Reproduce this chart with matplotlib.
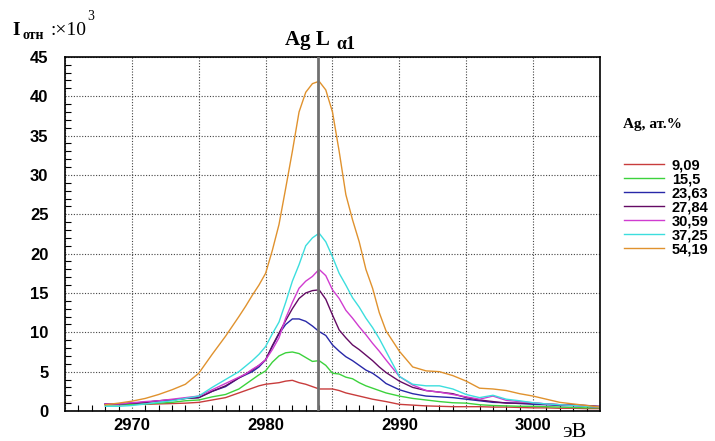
import matplotlib
matplotlib.use("Agg")
import matplotlib.pyplot as plt
from matplotlib.ticker import MultipleLocator

# energy, eV
energy = [2968, 2969, 2970, 2971, 2972, 2973, 2974, 2975, 2976, 2977, 2978,
          2978.5, 2979, 2979.5, 2980, 2980.5, 2981, 2981.5, 2982, 2982.5, 2983,
          2983.5, 2984, 2984.5, 2985, 2985.5, 2986, 2986.5, 2987, 2987.5, 2988,
          2988.5, 2989, 2990, 2991, 2992, 2993, 2994, 2995, 2996, 2997, 2998,
          2999, 3000, 3001, 3002, 3003, 3004, 3005]

ag_09 = [0.8, 0.8, 0.85, 0.85, 0.9, 0.95, 1.0, 1.1, 1.4, 1.7, 2.3,
         2.6, 2.9, 3.2, 3.4, 3.5, 3.6, 3.8, 3.9, 3.6, 3.4,
         3.1, 2.8, 2.8, 2.8, 2.6, 2.3, 2.1, 1.9, 1.7, 1.5,
         1.35, 1.2, 0.85, 0.75, 0.65, 0.6, 0.55, 0.55, 0.55, 0.5, 0.5,
         0.45, 0.4, 0.4, 0.35, 0.35, 0.3, 0.3]
ag_15 = [0.8, 0.8, 0.85, 0.9, 1.0, 1.1, 1.3, 1.4, 1.8, 2.1, 2.8,
         3.4, 4.0, 4.6, 5.1, 6.2, 7.0, 7.4, 7.5, 7.3, 6.8,
         6.3, 6.4, 5.8, 4.8, 4.7, 4.3, 4.1, 3.6, 3.2, 2.9,
         2.6, 2.3, 1.9, 1.6, 1.4, 1.2, 1.05, 1.0, 0.8, 0.7, 0.65,
         0.6, 0.6, 0.55, 0.5, 0.45, 0.4, 0.4]
ag_23 = [0.9, 0.9, 1.0, 1.1, 1.3, 1.4, 1.6, 1.7, 2.5, 3.1, 4.2,
         4.6, 5.0, 5.6, 6.5, 8.2, 9.8, 11.0, 11.7, 11.7, 11.4,
         10.8, 10.1, 9.6, 8.4, 7.6, 6.9, 6.4, 5.8, 5.2, 4.8,
         4.2, 3.5, 2.7, 2.2, 1.9, 1.8, 1.7, 1.5, 1.3, 1.1, 1.05,
         0.95, 0.85, 0.8, 0.7, 0.7, 0.6, 0.5]
ag_27 = [0.9, 0.9, 1.0, 1.1, 1.3, 1.4, 1.6, 1.7, 2.5, 3.2, 4.2,
         4.7, 5.2, 5.8, 6.5, 8.3, 9.9, 11.5, 13.0, 14.3, 15.0,
         15.3, 15.4, 14.2, 12.2, 10.3, 9.3, 8.4, 7.8, 7.1, 6.4,
         5.6, 4.9, 3.8, 3.0, 2.6, 2.4, 2.2, 1.7, 1.4, 1.2, 1.0,
         1.0, 1.0, 0.9, 0.8, 0.8, 0.7, 0.6]
ag_30 = [0.9, 0.9, 1.05, 1.2, 1.3, 1.5, 1.7, 1.9, 2.7, 3.5, 4.3,
         4.7, 5.3, 5.8, 6.5, 7.8, 9.3, 11.8, 13.8, 15.6, 16.5,
         17.1, 18.0, 17.2, 15.4, 14.3, 12.8, 11.8, 10.7, 9.7, 8.6,
         7.6, 6.5, 4.4, 3.3, 2.6, 2.4, 2.1, 1.8, 1.5, 1.9, 1.35,
         1.2, 1.05, 0.9, 0.8, 0.7, 0.6, 0.5]
ag_37 = [0.6, 0.6, 0.7, 0.9, 1.1, 1.3, 1.6, 1.9, 3.0, 4.0, 5.0,
         5.7, 6.4, 7.2, 8.2, 9.8, 11.3, 13.8, 16.5, 18.6, 21.0,
         22.0, 22.6, 21.5, 19.6, 17.5, 16.0, 14.4, 13.2, 11.8, 10.6,
         9.2, 7.6, 4.4, 3.4, 3.2, 3.2, 2.8, 2.1, 1.7, 2.0, 1.5,
         1.3, 1.05, 0.9, 0.8, 0.7, 0.6, 0.5]
ag_54 = [0.8, 1.0, 1.25, 1.6, 2.1, 2.7, 3.4, 4.8, 7.2, 9.5, 12.0,
         13.3, 14.7, 16.0, 17.5, 20.4, 23.7, 28.3, 33.0, 38.0, 40.5,
         41.6, 41.9, 40.8, 38.0, 33.0, 27.5, 24.3, 21.5, 18.0, 15.6,
         12.5, 10.2, 7.6, 5.6, 5.1, 5.0, 4.5, 3.8, 2.9, 2.8, 2.6,
         2.2, 1.9, 1.5, 1.1, 0.9, 0.7, 0.5]

series = [ag_09, ag_15, ag_23, ag_27, ag_30, ag_37, ag_54]
labels = ["9,09", "15,5", "23,63", "27,84", "30,59", "37,25", "54,19"]
colors = ["#c83c3c", "#3cd23c", "#2828a8", "#640a64", "#d03cd0", "#3cdede", "#e0922e"]

line_pos = 2983.9

fig = plt.figure(figsize=(7.15, 4.41), dpi=100)
ax = fig.add_axes([0.091, 0.068, 0.748, 0.803])

for y, lab, c in zip(series, labels, colors):
    ax.plot(energy, y, color=c, lw=1.0, label=lab)

ax.axvline(line_pos, color="#707070", lw=2, zorder=5)

ax.set_xlim(2965, 3005)
ax.set_ylim(0, 45)

ax.set_xticks([2965, 2970, 2975, 2980, 2985, 2990, 2995, 3000, 3005])
ax.set_xticklabels(["", "2970", "", "2980", "", "2990", "", "3000", ""])
ax.xaxis.set_minor_locator(MultipleLocator(1))
ax.yaxis.set_major_locator(MultipleLocator(5))
ax.yaxis.set_minor_locator(MultipleLocator(1))
ax.tick_params(which="both", direction="in", length=4, width=0.8)
ax.tick_params(axis="x", which="major", length=0, pad=5)
ax.tick_params(axis="y", which="major", length=0, pad=12)

for t in ax.get_xticklabels() + ax.get_yticklabels():
    t.set_fontfamily("Liberation Sans")
    t.set_fontweight("bold")
    t.set_fontsize(12)

ax.grid(True, which="major", ls=(0, (1, 1.5)), color="#444444", lw=0.8)
for s in ax.spines.values():
    s.set_linewidth(1.2)

# title and axis labels
fig.text(0.398, 0.898, "Ag L", family="Liberation Serif",
         fontweight="bold", fontsize=15, va="baseline")
fig.text(0.470, 0.889, "α1", family="Liberation Serif",
         fontweight="bold", fontsize=13, va="baseline")
fig.text(0.017, 0.92, "I", family="Liberation Serif", fontweight="bold",
         fontsize=14, va="baseline")
fig.text(0.031, 0.912, "отн", family="Liberation Serif", fontweight="bold",
         fontsize=10, va="baseline")
fig.text(0.071, 0.92, ":×10", family="Liberation Serif", fontsize=14, va="baseline")
fig.text(0.122, 0.955, "3", family="Liberation Serif", fontsize=10, va="baseline")
fig.text(0.787, 0.008, "эВ", family="Liberation Serif", fontsize=16, va="baseline")

# legend
fig.text(0.912, 0.71, "Ag, ат.%", family="Liberation Serif", fontweight="bold",
         fontsize=11, ha="center")
leg = ax.legend(loc="upper left", bbox_to_anchor=(0.862, 0.658),
                bbox_transform=fig.transFigure, frameon=False,
                prop={"family": "Liberation Sans", "weight": "bold", "size": 10.5},
                handlelength=2.8, handletextpad=0.5, labelspacing=0.0,
                borderpad=0)

fig.savefig("out.png", dpi=100)
